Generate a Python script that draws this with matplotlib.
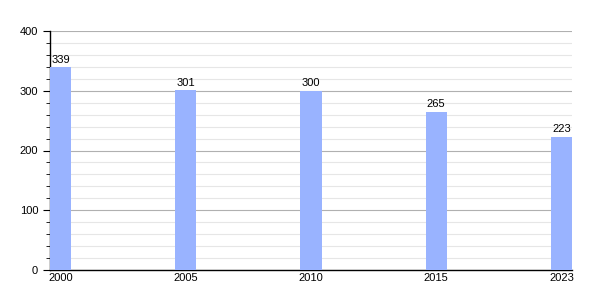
import matplotlib
matplotlib.use("Agg")
from matplotlib import pyplot as plt
from matplotlib.ticker import MultipleLocator

years = ["2000", "2005", "2010", "2015", "2023"]
values = [339, 301, 300, 265, 223]

plt.rcParams['font.family'] = ['Liberation Sans', 'DejaVu Sans']

fig = plt.figure(figsize=(6, 3), dpi=100)
ax = fig.add_axes([50 / 600, 30 / 300, 522 / 600, 239 / 300])

w = 0.168
x = list(range(len(years)))
ax.bar(x, values, width=w, color="#99b3ff", zorder=3)
for xi, v in zip(x, values):
    ax.text(xi, v + 4, str(v), ha="center", va="bottom", fontsize=8, zorder=4)

ax.set_xlim(-w / 2, len(years) - 1 + w / 2)
ax.set_ylim(0, 400)
ax.set_xticks(x)
ax.set_xticklabels(years, fontsize=8)
ax.tick_params(axis="x", length=0, pad=2)
ax.yaxis.set_major_locator(MultipleLocator(100))
ax.yaxis.set_minor_locator(MultipleLocator(20))
ax.tick_params(axis="y", which="major", length=5, labelsize=8, direction="out")
ax.tick_params(axis="y", which="minor", length=3, direction="out")
ax.grid(axis="y", which="major", color="#b0b0b0", linewidth=0.8, zorder=0)
ax.grid(axis="y", which="minor", color="#e6e6e6", linewidth=0.8, zorder=0)
for s in ["top", "right"]:
    ax.spines[s].set_visible(False)
ax.spines["left"].set_linewidth(1)
ax.spines["bottom"].set_linewidth(1)

plt.savefig("out.png", dpi=100)
